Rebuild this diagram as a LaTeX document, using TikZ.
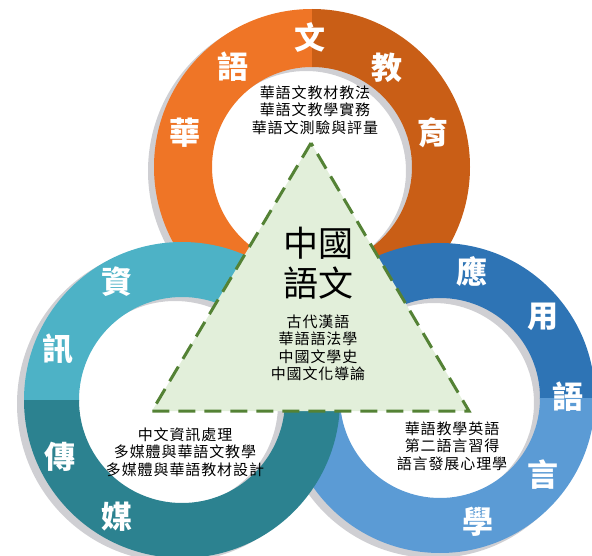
\documentclass[tikz,border=0pt]{standalone}
\usepackage{fontspec}
\setmainfont{Noto Sans CJK TC}
\newfontfamily\coursefont{Noto Sans CJK TC}[LetterSpace=6]
\usetikzlibrary{calc}

\definecolor{shadowgray}{HTML}{CFCFD3}
\definecolor{orangeL}{HTML}{EF7526}
\definecolor{orangeD}{HTML}{C95E16}
\definecolor{tealL}{HTML}{4DB2C6}
\definecolor{tealD}{HTML}{2C8290}
\definecolor{blueD}{HTML}{2E74B5}
\definecolor{blueL}{HTML}{5B9BD5}
\definecolor{triFill}{HTML}{E2EFDA}
\definecolor{triLine}{HTML}{548235}

\tikzset{
  ringchar/.style={text=white, inner sep=0pt, font=\fontsize{31}{31}\selectfont\bfseries},
  title/.style={inner sep=0pt, font=\fontsize{35}{35}\selectfont},
  course/.style={align=center, inner sep=0pt, font=\coursefont\fontsize{15}{17.5}\selectfont},
  ringshadow/.style={fill=shadowgray, even odd rule},
}

\begin{document}
\begin{tikzpicture}[x=1pt,y=-1pt]
    \useasboundingbox (0,0) rectangle (592,556);
    \coordinate (og) at (312,167);
    \coordinate (bg) at (440,398);
    \coordinate (tg) at (182,400);
    % 
    \fill[ringshadow] ([shift={(-6,4)}]og) circle[radius=158pt] circle[radius=100pt];
    \begin{scope}
      \clip (0,0) rectangle (312,556);
      \fill[orangeL, even odd rule] (og) circle[radius=158pt] circle[radius=100pt];
    \end{scope}
    \begin{scope}
      \clip (312,0) rectangle (592,556);
      \fill[orangeD, even odd rule] (og) circle[radius=158pt] circle[radius=100pt];
    \end{scope}
    % 
    \fill[ringshadow] ([shift={(-6,5)}]bg) circle[radius=155pt] circle[radius=100pt];
    \begin{scope}
      \clip (0,0) rectangle (592,398);
      \fill[blueD, even odd rule] (bg) circle[radius=155pt] circle[radius=100pt];
    \end{scope}
    \begin{scope}
      \clip (0,398) rectangle (592,556);
      \fill[blueL, even odd rule] (bg) circle[radius=155pt] circle[radius=100pt];
    \end{scope}
    % 
    \fill[ringshadow] ([shift={(-7,4)}]tg) circle[radius=158pt] circle[radius=103pt];
    \begin{scope}
      \clip (0,0) rectangle (592,400);
      \fill[tealL, even odd rule] (tg) circle[radius=158pt] circle[radius=103pt];
    \end{scope}
    \begin{scope}
      \clip (0,400) rectangle (592,556);
      \fill[tealD, even odd rule] (tg) circle[radius=158pt] circle[radius=103pt];
    \end{scope}
    % 
    \filldraw[fill=triFill, draw=triLine, line width=3pt, dash pattern=on 17pt off 9pt] (311,143) -- (152,411) -- (469,411) -- cycle;
    % 
    \node[ringchar] (hua) at (185,133) {華};
    \node[ringchar] (yuA) at (233,67) {語};
    \node[ringchar] (wen) at (310,38) {文};
    \node[ringchar] (jiao) at (387,68) {教};
    \node[ringchar] (yu) at (433,133) {育};
    \node[ringchar] (zi) at (117,282) {資};
    \node[ringchar] (xun) at (58,349) {訊};
    \node[ringchar] (chuan) at (60,457) {傳};
    \node[ringchar] (mei) at (117,517) {媒};
    \node[ringchar] (ying) at (472,272) {應};
    \node[ringchar] (yong) at (543,317) {用};
    \node[ringchar] (yuB) at (568,397) {語};
    \node[ringchar] (yan) at (543,475) {言};
    \node[ringchar] (xue) at (478,522) {學};
    % 
    \node[title] (zhongguo) at (318,243) {中國};
    \node[title] (yuwen) at (318,283) {語文};
    \node[course] (core) at (318,348) {古代漢語\\華語語法學\\中國文學史\\中國文化導論};
    \node[course] (teach) at (315,110) {華語文教材教法\\華語文教學實務\\華語文測驗與評量};
    \node[course] (media) at (185,452) {中文資訊處理\\多媒體與華語文教學\\多媒體與華語教材設計};
    \node[course] (ling) at (452,446) {華語教學英語\\第二語言習得\\語言發展心理學};
  \end{tikzpicture}
\end{document}
